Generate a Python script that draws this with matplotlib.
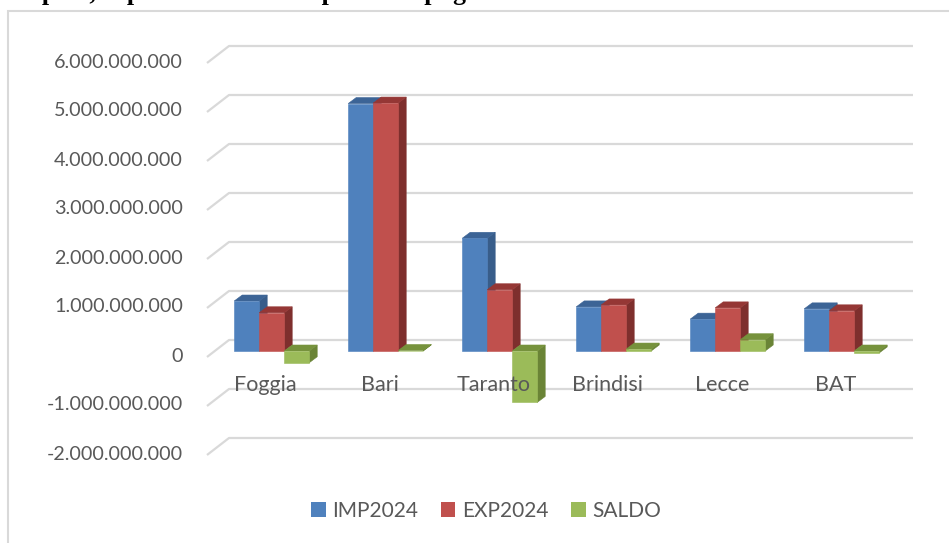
import matplotlib
matplotlib.use('Agg')
import matplotlib.pyplot as plt
from matplotlib.patches import Polygon, Rectangle, Patch

plt.rcParams['font.family'] = ['Lato', 'DejaVu Sans']

# ---------------- data ----------------
categories = ['Foggia', 'Bari', 'Taranto', 'Brindisi', 'Lecce', 'BAT']
imp2024 = [1.02e9, 5.05e9, 2.30e9, 0.90e9, 0.65e9, 0.86e9]
exp2024 = [0.78e9, 5.06e9, 1.25e9, 0.94e9, 0.88e9, 0.82e9]
saldo = [-0.24e9, 0.01e9, -1.05e9, 0.04e9, 0.23e9, -0.04e9]
series_names = ['IMP2024', 'EXP2024', 'SALDO']
yticks = [-2e9, -1e9, 0, 1e9, 2e9, 3e9, 4e9, 5e9, 6e9]
title = 'Import, export e saldo delle province pugliesi nel 2024'

front_cols = ['#4F81BD', '#C0504D', '#9BBB59']
side_cols = ['#385D8A', '#7E2F2D', '#6A8436']
top_cols = ['#3C6496', '#953735', '#76923C']
text_col = '#595959'
grid_col = '#D9D9D9'

# ---------------- layout ----------------
W, H = 949, 543
fig = plt.figure(figsize=(W / 100, H / 100), dpi=100)
ax = fig.add_axes([0, 0, 1, 1])
ax.axis('off')

CAT_PX = 114.0          # pixels per category
VAL_PX = 49.0 / 1e9     # pixels per unit value
X0_PX = 214.7           # pixel x of category -0.5 on bar plane
Y0_PX = 351.0           # pixel y (from top) of value 0 on bar plane
ax.set_xlim(-0.5 - X0_PX / CAT_PX, -0.5 + (W - X0_PX) / CAT_PX)
ax.set_ylim(-(H - Y0_PX) / VAL_PX, Y0_PX / VAL_PX)


def dx(px):
    return px / CAT_PX


def dy(px):  # upward pixels -> value units
    return px / VAL_PX


n = len(categories)
# wall depth offsets relative to bar plane
FX, FY = dx(-7.7), dy(-6)
BX, BY = dx(14.3), dy(11)

# gridlines (back wall + left wall)
for v in yticks:
    ax.plot([-0.5 + FX, -0.5 + BX, n - 0.5 + BX],
            [v + FY, v + BY, v + BY], color=grid_col, lw=1.6,
            solid_capstyle='butt', zorder=1)


def fmt(v):
    s = f'{abs(int(round(v))):,}'.replace(',', '.')
    return ('-' if v < 0 else '') + s


for v in yticks:
    ax.text(-0.5 + dx(183 - X0_PX), v + FY + dy(1), fmt(v), ha='right',
            va='center', fontsize=14.2, color=text_col)

for i, c in enumerate(categories):
    ax.text(i + dx(-6), dy(Y0_PX - 391), c, ha='center', va='baseline',
            fontsize=15.5, color=text_col, zorder=200)

# bars with 3D faces
w = 25.0 / CAT_PX
bdx, bdy = dx(8), dy(6)
series = [imp2024, exp2024, saldo]
for i in range(n):
    for k, vals in enumerate(series):
        v = vals[i]
        xc = i + (k - 1) * w
        x0, x1 = xc - w / 2, xc + w / 2
        lo, hi = min(0, v), max(0, v)
        z = 2 + i * 10 + k * 3
        side = Polygon([(x1, lo), (x1 + bdx, lo + bdy), (x1 + bdx, hi + bdy), (x1, hi)],
                       closed=True, fc=side_cols[k], ec=side_cols[k], lw=0.4, zorder=z)
        top = Polygon([(x0, hi), (x1, hi), (x1 + bdx, hi + bdy), (x0 + bdx, hi + bdy)],
                      closed=True, fc=top_cols[k], ec=top_cols[k], lw=0.4, zorder=z + 1)
        ax.add_patch(side)
        ax.add_patch(top)
        ax.bar([xc], [hi - lo], bottom=[lo], width=w, color=front_cols[k],
               edgecolor=front_cols[k], linewidth=0.4, zorder=z + 2)

# legend
handles = [Patch(facecolor=front_cols[k], edgecolor='none') for k in range(3)]
fig.legend(handles, series_names, loc='center',
           bbox_to_anchor=(486 / W, 1 - 511 / H), ncol=3, frameon=False,
           fontsize=15, handlelength=0.7, handleheight=0.7,
           handletextpad=0.3, columnspacing=1.1, labelcolor=text_col)

# chart border (only left and top edges visible)
fig.add_artist(Rectangle((8 / W, -0.1), 1.2, 1 - 11 / H + 0.1,
                         transform=fig.transFigure, fill=False,
                         ec=grid_col, lw=1.5))

# title (cut off at the top of the image, as in the reference)
fig.text(10 / W, 1 + 0.3 / H, title, ha='left', va='baseline',
         fontfamily='Liberation Serif', fontweight='bold', fontsize=18.7,
         color='black')

fig.savefig('out.png', dpi=100)
